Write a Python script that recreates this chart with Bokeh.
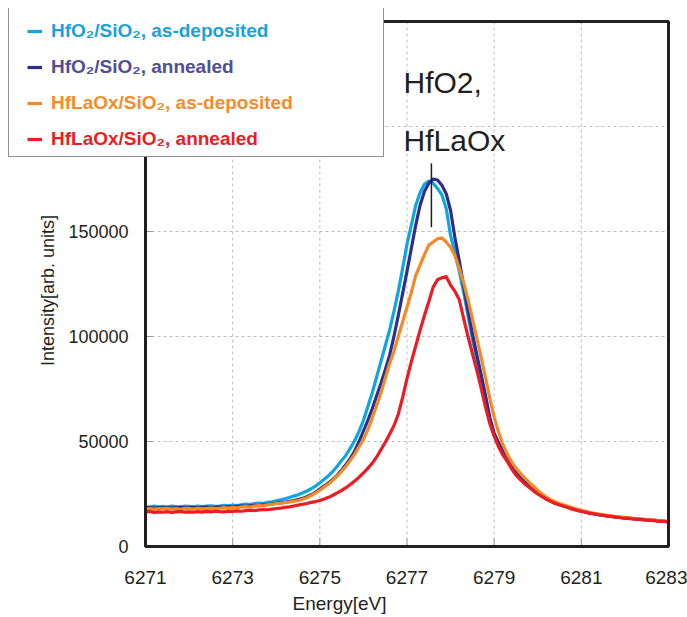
import numpy as np
from bokeh.plotting import figure
from bokeh.models import (Range1d, FixedTicker, BasicTickFormatter, Legend,
                          LegendItem, Label, ColumnDataSource)
from bokeh.core.properties import value
from bokeh.embed import file_html
from bokeh.resources import INLINE

# ---------------- data ----------------
energy = np.round(np.arange(6271.0, 6283.05, 0.1), 1)

hfo2_dep = [
    19000, 18700, 19200, 18900, 19100, 18800, 19300, 19000, 18900, 19200,
    19100, 18900, 19300, 19000, 19200, 19400, 19100, 19300, 19600, 19400,
    19700, 19500, 19900, 20200, 20000, 20400, 20700, 20500, 21000, 21300,
    21800, 22200, 22700, 23300, 24000, 24600, 25500, 26400, 27500, 28800,
    30300, 32000, 33700, 35800, 38200, 41000, 43500, 46800, 50500, 54800,
    60000, 66500, 73000, 80500, 88000, 95500, 103000, 112000, 121500, 132500,
    144000, 153000, 162500, 168500, 172500, 174000, 173000, 170500, 167500, 161000,
    148000, 140000, 131000, 121000, 110000, 99000, 89500, 79500, 69000, 60000,
    53000, 48500, 44500, 41000, 37800, 35000, 32700, 30500, 28700, 27000,
    25400, 24000, 22800, 21700, 20800, 20000, 19300, 18700, 18000, 17400,
    16900, 16400, 16000, 15500, 15200, 14900, 14600, 14300, 14000, 13800,
    13600, 13400, 13300, 13100, 12900, 12700, 12500, 12400, 12200, 12000,
    11800]

hfo2_ann = [
    18300, 18600, 18200, 18500, 18400, 18700, 18300, 18500, 18600, 18400,
    18500, 18700, 18400, 18600, 18800, 18500, 18700, 18900, 18700, 19000,
    18900, 19100, 19300, 19100, 19400, 19600, 19500, 19800, 20000, 20300,
    20500, 20800, 21000, 21500, 21900, 22400, 22900, 23700, 24600, 25800,
    27300, 28800, 30300, 32000, 34000, 36400, 39000, 42000, 45500, 50000,
    55000, 60000, 65500, 71500, 77500, 84000, 91000, 100000, 110000, 120500,
    131000, 142000, 153000, 162500, 169000, 173000, 175000, 174500, 172000, 168000,
    160000, 147000, 136000, 124000, 112500, 101500, 91500, 82000, 72000, 61500,
    54000, 49500, 45500, 41500, 38000, 35000, 32800, 30700, 28800, 27000,
    25300, 24100, 22700, 21800, 20700, 20100, 19200, 18800, 17900, 17500,
    16800, 16500, 15900, 15600, 15100, 15000, 14500, 14400, 13900, 13900,
    13500, 13500, 13200, 13200, 12800, 12800, 12400, 12500, 12100, 12100,
    11600]

hflaox_dep = [
    17800, 18100, 17700, 18000, 17900, 18200, 17800, 18000, 17700, 18100,
    18000, 17800, 18200, 17900, 18100, 18300, 18000, 18200, 18500, 18300,
    18600, 18400, 18800, 19000, 18800, 19200, 19500, 19400, 19800, 20100,
    20400, 20600, 20900, 21200, 21500, 21900, 22500, 23200, 24200, 25400,
    26800, 28300, 29800, 31600, 33600, 35800, 38200, 41000, 44000, 47500,
    51000, 55500, 61000, 67000, 73000, 80000, 87000, 93000, 100000, 107000,
    114000, 121000, 129000, 134000, 139000, 143500, 145000, 146500, 147000, 145000,
    142500, 138500, 132500, 125500, 117500, 108500, 99500, 90000, 80500, 70500,
    61500, 54500, 48500, 44000, 40300, 37300, 35000, 32700, 30600, 28700,
    26700, 25000, 23500, 22300, 21300, 20500, 19800, 19100, 18400, 17800,
    17200, 16700, 16200, 15800, 15500, 15100, 14800, 14500, 14200, 14000,
    13800, 13600, 13400, 13200, 13000, 12800, 12600, 12400, 12200, 12100,
    11900]

hflaox_ann = [
    16400, 16700, 16200, 16500, 16300, 16600, 16200, 16500, 16700, 16400,
    16500, 16300, 16600, 16400, 16700, 16500, 16800, 16600, 16500, 16800,
    16700, 17000, 16800, 17100, 17300, 17100, 17400, 17600, 17500, 17800,
    18100, 18300, 18600, 18900, 19300, 19700, 20100, 20500, 21000, 21400,
    21900, 22600, 23400, 24400, 25500, 26700, 28000, 29500, 31200, 33000,
    35000, 37200, 39600, 42500, 46000, 49500, 53500, 57500, 63000, 71000,
    80000, 88000, 95500, 103000, 110000, 116500, 123500, 127000, 128000, 128500,
    124500, 121500, 117500, 108500, 100000, 92000, 84000, 75500, 66500, 58500,
    52500, 47500, 43500, 40500, 37000, 34000, 31800, 29800, 28200, 26500,
    25000, 23700, 22500, 21400, 20500, 19800, 19200, 18500, 17800, 17200,
    16700, 16300, 15800, 15500, 15100, 14800, 14500, 14200, 14000, 13700,
    13500, 13300, 13100, 12900, 12800, 12600, 12400, 12200, 12000, 11900,
    11800]

series_labels = ["HfO\u2082/SiO\u2082, as-deposited", "HfO\u2082/SiO\u2082, annealed",
                 "HfLaOx/SiO\u2082, as-deposited", "HfLaOx/SiO\u2082, annealed"]
x_ticks = [6271, 6273, 6275, 6277, 6279, 6281, 6283]
x_grid = [6273, 6275, 6277, 6279, 6281]
y_ticks = [0, 50000, 100000, 150000]
y_tick_labels = ["0", "50000", "100000", "150000"]
y_grid = [50000, 100000, 150000, 200000]
x_label = "Energy[eV]"
y_label = "Intensity[arb. units]"
annot_texts = ["HfO2,", "HfLaOx"]
peak_energy = 6277.56
peak_marker = (152000, 182500)

# ---------------- geometry & styles ----------------
X_MIN, X_MAX = 6271, 6283
Y_MIN, Y_MAX = 0, 250000
BOX_W, BOX_H = 523, 525            # plot box size in px
PAD_LEFT, PAD_TOP = 137, 13        # room for legend / y labels inside frame
PAD_RIGHT, PAD_BOTTOM = 2, 8
ev_per_px = (X_MAX - X_MIN) / BOX_W
y_per_px = (Y_MAX - Y_MIN) / BOX_H
FIG_H = 617
FRAME_BOTTOM = 8 + PAD_TOP + BOX_H + PAD_BOTTOM   # 554 px from top

line_colors = ["#0ea5e2", "#2d2f8e", "#f48a25", "#ec1c24"]
text_colors = ["#1ba1dc", "#4f4e97", "#f68b2a", "#ec1c24"]
INK = "#231f20"
GRID = "#bdbdbd"
TICK = "#9a9a9a"
FONT = "Liberation Sans"

p = figure(width=687, height=FIG_H, output_backend="svg", toolbar_location=None,
           x_range=Range1d(X_MIN - PAD_LEFT * ev_per_px, X_MAX + PAD_RIGHT * ev_per_px),
           y_range=Range1d(Y_MIN - PAD_BOTTOM * y_per_px, Y_MAX + PAD_TOP * y_per_px),
           min_border_left=8, min_border_right=17, min_border_top=8,
           min_border_bottom=FIG_H - FRAME_BOTTOM, x_axis_label=x_label)
p.background_fill_color = "white"
p.border_fill_color = "white"
p.outline_line_color = None
p.xgrid.visible = False
p.ygrid.visible = False
p.yaxis.visible = False

# x axis (real axis for the tick labels and title)
xa = p.xaxis[0]
xa.ticker = FixedTicker(ticks=x_ticks)
xa.formatter = BasicTickFormatter(use_scientific=False)
xa.axis_line_color = None
xa.major_tick_line_color = None
xa.minor_tick_line_color = None
xa.major_label_text_color = INK
xa.major_label_text_font = FONT
xa.major_label_text_font_size = "19px"
xa.major_label_standoff = 10
xa.axis_label_text_color = INK
xa.axis_label_text_font = FONT
xa.axis_label_text_font_style = "normal"
xa.axis_label_text_font_size = "19px"
xa.axis_label_standoff = 6

# dashed grid inside the plot box
p.segment(x0=x_grid, y0=[Y_MIN] * len(x_grid), x1=x_grid, y1=[Y_MAX] * len(x_grid),
          line_color=GRID, line_dash="3 3", line_width=1)
p.segment(x0=[X_MIN] * len(y_grid), y0=y_grid, x1=[X_MAX] * len(y_grid), y1=y_grid,
          line_color=GRID, line_dash="3 3", line_width=1)
# inside ticks
p.segment(x0=[X_MIN] * len(y_ticks), y0=y_ticks,
          x1=[X_MIN + 8 * ev_per_px] * len(y_ticks), y1=y_ticks,
          line_color=TICK, line_width=1)
p.segment(x0=x_ticks, y0=[Y_MIN] * len(x_ticks),
          x1=x_ticks, y1=[Y_MIN + 8 * y_per_px] * len(x_ticks),
          line_color=TICK, line_width=1)

# series
renderers = []
for vals, col in zip([hfo2_dep, hfo2_ann, hflaox_dep, hflaox_ann], line_colors):
    src = ColumnDataSource(dict(x=energy, y=vals))
    r = p.line("x", "y", source=src, line_color=col, line_width=3.2,
               line_join="round")
    renderers.append(r)

# peak marker
p.segment(x0=[peak_energy], y0=[peak_marker[0]], x1=[peak_energy],
          y1=[peak_marker[1]], line_color=INK, line_width=1.5)

# plot box border
p.quad(left=[X_MIN], right=[X_MAX], bottom=[Y_MIN], top=[Y_MAX],
       fill_alpha=0, line_color=INK, line_width=3)

# y tick labels and y axis title
p.text(x=[X_MIN] * len(y_ticks), y=y_ticks, text=y_tick_labels, x_offset=-17,
       text_align="right", text_baseline="middle", text_font=value(FONT),
       text_font_size="18px", text_color=INK)
p.text(x=[X_MIN], y=[(546 - 290) * y_per_px], text=[y_label], x_offset=-98,
       angle=np.pi / 2, text_align="center", text_baseline="middle",
       text_font=value(FONT), text_font_size="18px", text_color=INK)

# annotation text
p.add_layout(Label(x=6276.92, y=221000, text=annot_texts[0], text_font_size="30px",
                   text_baseline="middle", text_color=INK, text_font=FONT))
p.add_layout(Label(x=6276.92, y=193300, text=annot_texts[1], text_font_size="30px",
                   text_baseline="middle", text_color=INK, text_font=FONT))

# legend box (background)
dummy = p.line(x=[], y=[], line_alpha=0)
bg = Legend(items=[LegendItem(label=" ", renderers=[dummy])],
            location=(0, FRAME_BOTTOM - 157),
            padding=0, spacing=0, margin=0, glyph_width=1, glyph_height=1,
            label_standoff=0, label_width=373, label_height=148,
            border_line_color=INK, border_line_width=1,
            background_fill_color="white", background_fill_alpha=1)
p.add_layout(bg)

# legend entries, one per colour
for i, (r, lbl, tc) in enumerate(zip(renderers, series_labels, text_colors)):
    lg = Legend(items=[LegendItem(label=lbl, renderers=[r])],
                location=(19, FRAME_BOTTOM - 42 - 36 * i),
                padding=0, margin=0, spacing=0, glyph_width=15, glyph_height=20,
                label_standoff=9, label_height=20,
                label_text_font=FONT, label_text_font_style="bold",
                label_text_font_size="19px", label_text_color=tc,
                border_line_alpha=0, background_fill_alpha=0)
    p.add_layout(lg)

open("out.html", "w").write(file_html(p, INLINE))
